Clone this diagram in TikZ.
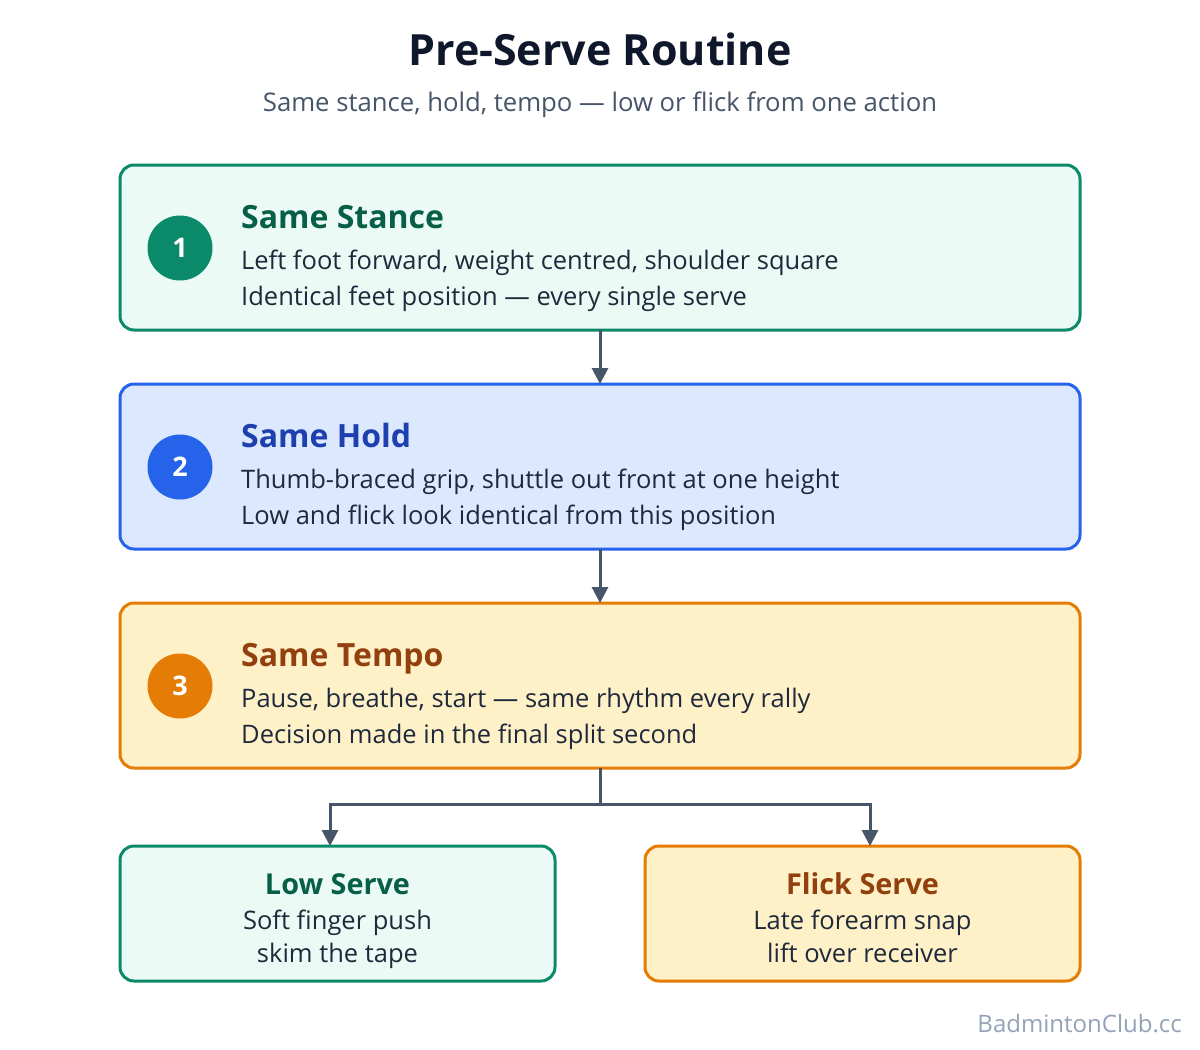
\documentclass[tikz,border=0pt]{standalone}
\usepackage{fontspec}
\setmainfont{Open Sans}
\usetikzlibrary{arrows.meta}
\definecolor{gB}{HTML}{0B8A6A}\definecolor{gF}{HTML}{ECFAF6}\definecolor{gT}{HTML}{065F46}
\definecolor{bB}{HTML}{2563EB}\definecolor{bF}{HTML}{DBE8FE}\definecolor{bT}{HTML}{1E40AF}
\definecolor{oB}{HTML}{E47C06}\definecolor{oF}{HTML}{FEF0C7}\definecolor{oT}{HTML}{92400E}
\definecolor{ink}{HTML}{1E293B}\definecolor{conn}{HTML}{475569}\definecolor{ttl}{HTML}{0F172A}
\definecolor{wm}{HTML}{94A3B8}
\tikzset{
  card/.style={draw=#1B, fill=#1F, line width=3pt, rounded corners=14pt, inner sep=0pt, outer sep=0pt, anchor=north west},
  badge/.style={circle, fill=#1, minimum size=65pt, inner sep=0pt, text=white, font=\fontsize{27}{30}\selectfont\bfseries},
  ctitle/.style={anchor=base west, text=#1, font=\fontsize{32}{36}\selectfont\bfseries, inner sep=0pt},
  cline/.style={anchor=base west, text=ink, font=\fontsize{25.5}{28}\selectfont, inner sep=0pt},
  stitle/.style={anchor=base, text=#1, font=\fontsize{28.8}{32}\selectfont\bfseries, inner sep=0pt},
  sline/.style={anchor=base, text=ink, font=\fontsize{25.5}{28}\selectfont, inner sep=0pt},
  conn/.style={draw=conn, line width=3pt},
  arr/.style={conn, -{Triangle[length=16pt,width=16pt]}}
}
\begin{document}
\begin{tikzpicture}[x=1pt,y=-1pt]
\useasboundingbox[fill=white] (0,0) rectangle (1200,1050);
\node[anchor=base, text=ttl, font=\fontsize{43}{48}\selectfont\bfseries, inner sep=0pt] (title) at (600,65) {Pre-Serve Routine};
\node[anchor=base, text=conn, font=\fontsize{25.7}{28}\selectfont, inner sep=0pt] (sub) at (600,111) {Same stance, hold, tempo — low or flick from one action};
% card 1
\node[card=g, minimum width=960pt, minimum height=165pt] (c1) at (120,165) {};
\node[badge=gB] (b1) at (180,248) {1};
\node[ctitle=gT] (t1) at (241,228) {Same Stance};
\node[cline] (l1a) at (241,269) {Left foot forward, weight centred, shoulder square};
\node[cline] (l1b) at (241,305) {Identical feet position — every single serve};
% card 2
\node[card=b, minimum width=960pt, minimum height=165pt] (c2) at (120,384) {};
\node[badge=bB] (b2) at (180,467) {2};
\node[ctitle=bT] (t2) at (241,447) {Same Hold};
\node[cline] (l2a) at (241,488) {Thumb-braced grip, shuttle out front at one height};
\node[cline] (l2b) at (241,524) {Low and flick look identical from this position};
% card 3
\node[card=o, minimum width=960pt, minimum height=165pt] (c3) at (120,603) {};
\node[badge=oB] (b3) at (180,686) {3};
\node[ctitle=oT] (t3) at (241,666) {Same Tempo};
\node[cline] (l3a) at (241,707) {Pause, breathe, start — same rhythm every rally};
\node[cline] (l3b) at (241,743) {Decision made in the final split second};
% bottom cards
\node[card=g, minimum width=435pt, minimum height=135pt] (lo) at (120,846) {};
\node[stitle=gT] (lot) at (337.5,894) {Low Serve};
\node[sline] (loa) at (337.5,929) {Soft finger push};
\node[sline] (lob) at (337.5,962) {skim the tape};
\node[card=o, minimum width=435pt, minimum height=135pt] (fl) at (645,846) {};
\node[stitle=oT] (flt) at (862.5,894) {Flick Serve};
\node[sline] (fla) at (862.5,929) {Late forearm snap};
\node[sline] (flb) at (862.5,962) {lift over receiver};
% connectors
\draw[arr] (c1.south) -- (c2.north);
\draw[arr] (c2.south) -- (c3.north);
\coordinate (split) at ([yshift=-36pt]c3.south);
\draw[conn] (c3.south) -- (split);
\draw[arr] (split) -| ([xshift=-270pt]split |- lo.north);
\draw[arr] (split) -| ([xshift=270pt]split |- fl.north);
\node[anchor=base east, text=wm, font=\fontsize{24}{26}\selectfont, inner sep=0pt] (wmk) at (1182,1032) {BadmintonClub.cc};
\end{tikzpicture}
\end{document}
